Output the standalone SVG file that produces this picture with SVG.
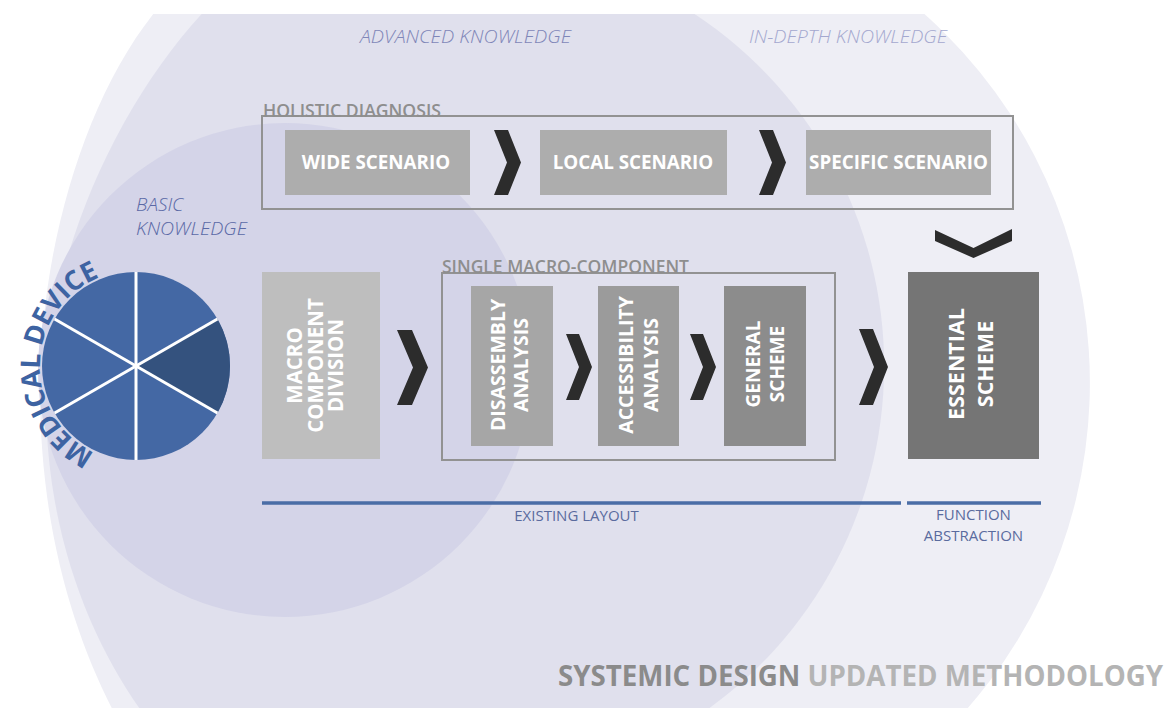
<svg xmlns="http://www.w3.org/2000/svg" width="1167" height="708" viewBox="0 0 1167 708">
<defs>
<clipPath id="bgclip"><rect x="0" y="14" width="1167" height="694"/></clipPath>
<path id="mdarc" d="M118.5,460.4 A96,96 0 0,1 123.5,270.8"/>
</defs>
<style>
.know{font-family:"Open Sans","Liberation Sans",sans-serif;font-style:italic;font-weight:300;font-size:19px}
.grp{font-family:"Open Sans","Liberation Sans",sans-serif;font-weight:600;font-size:17.5px;fill:#8e8e8e}
.lbl{font-family:"Open Sans","Liberation Sans",sans-serif;font-weight:700;fill:#ffffff;text-anchor:middle}
.frame{fill:none;stroke:#929292;stroke-width:2}
.chev{fill:#2c2c2c}
.bar{stroke:#4a6da6;stroke-width:3.5}
.cap{font-family:"Open Sans","Liberation Sans",sans-serif;font-size:15px;fill:#5a6b9e;text-anchor:middle}
.sep{stroke:#ffffff;stroke-width:3}
</style>
<rect width="1167" height="708" fill="#ffffff"/>
<g id="background" clip-path="url(#bgclip)">
<path d="M165,0 L908,0 A494,494 0 0,1 957,720 L118,720 C75,640 40,530 40,390 C40,250 85,90 165,0 Z" fill="#eeeef5"/>
<path d="M215,0 L672,0 A422,422 0 0,1 692,720 L148,720 C95,650 46,540 46,400 C46,250 125,90 215,0 Z" fill="#e0e0ed"/>
<circle cx="285" cy="370" r="247" fill="#d4d4e8"/>
</g>
<g id="knowledge-labels">
<text class="know" x="360" y="43" fill="#7f86b8" textLength="211" lengthAdjust="spacingAndGlyphs">ADVANCED KNOWLEDGE</text>
<text class="know" x="749" y="43" fill="#a4a8cf" textLength="198" lengthAdjust="spacingAndGlyphs">IN-DEPTH KNOWLEDGE</text>
<text class="know" x="136" y="211" fill="#5a69a6">BASIC</text>
<text class="know" x="136" y="235" fill="#5a69a6" textLength="111" lengthAdjust="spacingAndGlyphs">KNOWLEDGE</text>
</g>
<g id="medical-device">
<circle cx="136" cy="366" r="94" fill="#4468a4"/>
<path d="M136,366 L217.41,319 A94,94 0 0,1 217.41,413 Z" fill="#34527e"/>
<line class="sep" x1="136" y1="272" x2="136" y2="460"/>
<line class="sep" x1="54.59" y1="319" x2="217.41" y2="413"/>
<line class="sep" x1="54.59" y1="413" x2="217.41" y2="319"/>
<text font-family="'Open Sans','Liberation Sans',sans-serif" font-weight="700" font-size="27" fill="#3d63a2"><textPath href="#mdarc" startOffset="50%" text-anchor="middle">MEDICAL DEVICE</textPath></text>
</g>
<g id="holistic-diagnosis">
<rect class="frame" x="262" y="116" width="751" height="93"/>
<text class="grp" x="263" y="117" textLength="178" lengthAdjust="spacingAndGlyphs">HOLISTIC DIAGNOSIS</text>
</g>
<g id="wide-scenario">
<rect x="285" y="130" width="185" height="65" fill="#adadad"/>
<text class="lbl" x="376" y="169" font-size="18.8">WIDE SCENARIO</text>
</g>
<g id="local-scenario">
<rect x="540" y="130" width="187" height="65" fill="#adadad"/>
<text class="lbl" x="633" y="169" font-size="18.8">LOCAL SCENARIO</text>
</g>
<g id="specific-scenario">
<rect x="806" y="130" width="185" height="65" fill="#adadad"/>
<text class="lbl" x="898.5" y="169" font-size="18.8">SPECIFIC SCENARIO</text>
</g>
<g id="macro-component-division">
<rect x="262" y="272" width="118" height="187" fill="#bebebe"/>
<text class="lbl" font-size="20.5" transform="translate(302,365.5) rotate(-90)">MACRO</text>
<text class="lbl" font-size="20.5" transform="translate(322.5,365.5) rotate(-90)">COMPONENT</text>
<text class="lbl" font-size="20.5" transform="translate(343,365.5) rotate(-90)">DIVISION</text>
</g>
<g id="single-macro-component">
<rect class="frame" x="442" y="273" width="393" height="187"/>
<text class="grp" x="442" y="273" textLength="247" lengthAdjust="spacingAndGlyphs">SINGLE MACRO-COMPONENT</text>
</g>
<g id="disassembly-analysis">
<rect x="471" y="286" width="82" height="160" fill="#a6a6a6"/>
<text class="lbl" font-size="19.5" transform="translate(505,365) rotate(-90)">DISASSEMBLY</text>
<text class="lbl" font-size="19.5" transform="translate(528,365) rotate(-90)">ANALYSIS</text>
</g>
<g id="accessibility-analysis">
<rect x="598" y="286" width="81" height="160" fill="#9b9b9b"/>
<text class="lbl" font-size="19.5" transform="translate(632.5,365) rotate(-90)">ACCESSIBILITY</text>
<text class="lbl" font-size="19.5" transform="translate(658,365) rotate(-90)">ANALYSIS</text>
</g>
<g id="general-scheme">
<rect x="724" y="286" width="82" height="160" fill="#8c8c8c"/>
<text class="lbl" font-size="19" transform="translate(759.5,364) rotate(-90)">GENERAL</text>
<text class="lbl" font-size="19" transform="translate(784,364) rotate(-90)">SCHEME</text>
</g>
<g id="essential-scheme">
<rect x="908" y="272" width="131" height="187" fill="#757575"/>
<text class="lbl" font-size="21.5" transform="translate(964,364) rotate(-90)">ESSENTIAL</text>
<text class="lbl" font-size="21.5" transform="translate(993,364) rotate(-90)">SCHEME</text>
</g>
<g id="connectors">
<polygon class="chev" points="494,130 508,130 521,162.5 508,195 494,195 507,162.5"/>
<polygon class="chev" points="759,130 773,130 786,162.5 773,195 759,195 772,162.5"/>
<polygon class="chev" points="935,230 973.5,248 1012,229 1012,241 973.5,258 935,241"/>
<polygon class="chev" points="397,330 412,330 428,367.5 412,405 397,405 413,367.5"/>
<polygon class="chev" points="566,334 579,334 592,367 579,400 566,400 579,367"/>
<polygon class="chev" points="690,334 703,334 716,367 703,400 690,400 703,367"/>
<polygon class="chev" points="859,329 873,329 888,367 873,405 859,405 874,367"/>
</g>
<g id="phase-bars">
<line class="bar" x1="262" y1="503" x2="901" y2="503"/>
<line class="bar" x1="907" y1="503" x2="1041" y2="503"/>
<text class="cap" x="576.5" y="521" font-size="15.5">EXISTING LAYOUT</text>
<text class="cap" x="973.5" y="519.5">FUNCTION</text>
<text class="cap" x="973.5" y="540.5">ABSTRACTION</text>
</g>
<g id="title">
<text x="558" y="686" font-family="'Open Sans','Liberation Sans',sans-serif" font-weight="700" font-size="27.7" textLength="605" lengthAdjust="spacingAndGlyphs"><tspan fill="#8b8b8b">SYSTEMIC DESIGN </tspan><tspan fill="#b4b4b4">UPDATED METHODOLOGY</tspan></text>
</g>
</svg>
